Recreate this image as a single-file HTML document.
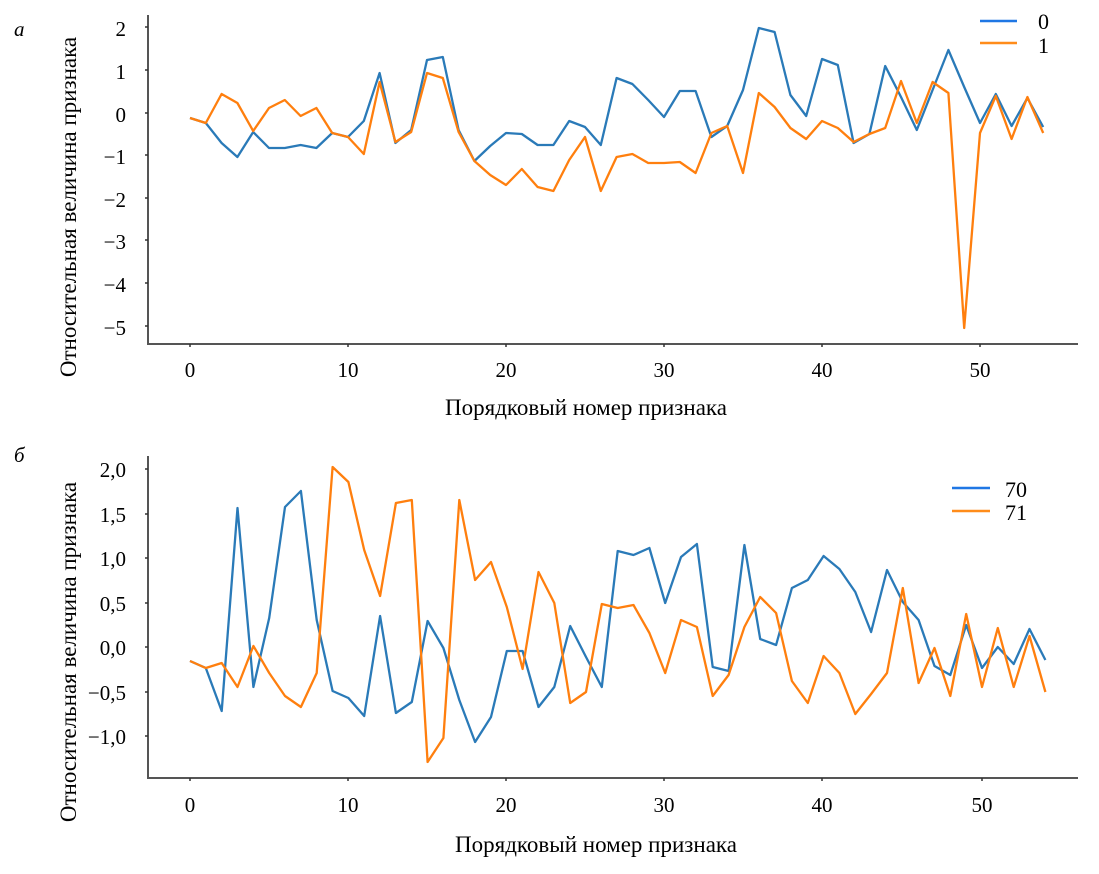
<!DOCTYPE html>
<html><head><meta charset="utf-8"><style>body{margin:0;background:#fff}svg{display:block}</style></head><body>
<svg width="1099" height="874" xmlns="http://www.w3.org/2000/svg" font-family="Liberation Serif, serif" font-size="21" fill="#000">
<g stroke="#555" stroke-width="2" fill="none">
<path d="M148,15V344H1078"/>
<path d="M148,456V778H1078"/>
</g>
<g stroke="#333" stroke-width="1.5">
<path d="M145,27h3M145,70h3M145,113h3M145,155h3M145,198h3M145,240h3M145,283h3M145,326h3"/>
<path d="M190,344v3M348,344v3M506,344v3M664,344v3M822,344v3M980,344v3"/>
<path d="M145,469h3M145,514h3M145,558h3M145,603h3M145,647h3M145,692h3M145,736h3"/>
<path d="M190,778v3M348,778v3M506,778v3M664,778v3M822,778v3M982,778v3"/>
</g>
<g text-anchor="end">
<text x="126" y="36">2</text><text x="126" y="79">1</text><text x="126" y="122">0</text><text x="126" y="164">−1</text><text x="126" y="207">−2</text><text x="126" y="249">−3</text><text x="126" y="292">−4</text><text x="126" y="335">−5</text>
<text x="126" y="477">2,0</text><text x="126" y="522">1,5</text><text x="126" y="566">1,0</text><text x="126" y="611">0,5</text><text x="126" y="655">0,0</text><text x="126" y="700">−0,5</text><text x="126" y="744">−1,0</text>
</g>
<g text-anchor="middle">
<text x="190" y="377">0</text><text x="348" y="377">10</text><text x="506" y="377">20</text><text x="664" y="377">30</text><text x="822" y="377">40</text><text x="980" y="377">50</text>
<text x="190" y="812">0</text><text x="348" y="812">10</text><text x="506" y="812">20</text><text x="664" y="812">30</text><text x="822" y="812">40</text><text x="982" y="812">50</text>
<text x="586" y="415" font-size="23">Порядковый номер признака</text>
<text x="596" y="852" font-size="23">Порядковый номер признака</text>
<text transform="translate(76,207) rotate(-90)" font-size="23">Относительная величина признака</text>
<text transform="translate(76,652) rotate(-90)" font-size="23">Относительная величина признака</text>
</g>
<text x="14" y="36" font-style="italic" font-size="21">a</text>
<text x="14" y="462" font-style="italic" font-size="21">б</text>
<g stroke-width="2.5">
<line x1="980" y1="21" x2="1017" y2="21" stroke="#1f77e4"/><line x1="980" y1="43" x2="1017" y2="43" stroke="#ff8c1a"/>
<line x1="952" y1="488" x2="990" y2="488" stroke="#1f77e4"/><line x1="952" y1="511" x2="990" y2="511" stroke="#ff8c1a"/>
</g>
<text x="1038" y="29" font-size="22">0</text><text x="1038" y="53" font-size="22">1</text>
<text x="1005" y="497" font-size="22">70</text><text x="1005" y="520" font-size="22">71</text>
<g fill="none" stroke-width="2.3" stroke-linejoin="round">
<polyline id="tb" stroke="#2a7ab8" points=""/>
<polyline id="to" stroke="#ff7f0e" points=""/>
<polyline id="bb" stroke="#2a7ab8" points=""/>
<polyline id="bo" stroke="#ff7f0e" points=""/>
</g>
</svg>
<script>
function p(id,ys,x0,dx){document.getElementById(id).setAttribute('points',ys.map((y,i)=>(x0+dx*i).toFixed(1)+','+y).join(' '));}
p('tb',[118,123,143,157,132,148,148,145,148,133,137,121,73,143,130,60,57,130,161,146,133,134,145,145,121,127,145,78,84,100,117,91,91,137,126,90,28,32,95,116,59,65,143,134,66,97,130,90,50,87,123,94,126,98,127],190,15.8);
p('to',[118,123,94,103,131,108,100,116,108,133,137,154,82,142,132,73,78,132,161,175,185,169,187,191,160,137,191,157,154,163,163,162,173,133,126,173,93,107,128,139,121,128,142,134,128,81,123,82,93,328,133,96,139,97,133],190,15.8);
p('bb',[661,668,711,508,687,618,507,491,620,691,698,716,616,713,702,621,648,700,742,717,651,651,707,687,626,657,687,551,555,548,603,557,544,667,671,545,639,645,588,580,556,569,592,632,570,602,620,666,675,625,668,647,664,629,660],190,15.84);
p('bo',[661,668,663,687,646,673,696,707,673,467,482,550,596,503,500,762,738,500,580,562,607,669,572,603,703,692,604,608,605,633,673,620,627,696,675,627,597,613,681,703,656,673,714,694,673,588,683,648,696,614,687,628,687,636,692],190,15.84);
</script>
</body></html>
